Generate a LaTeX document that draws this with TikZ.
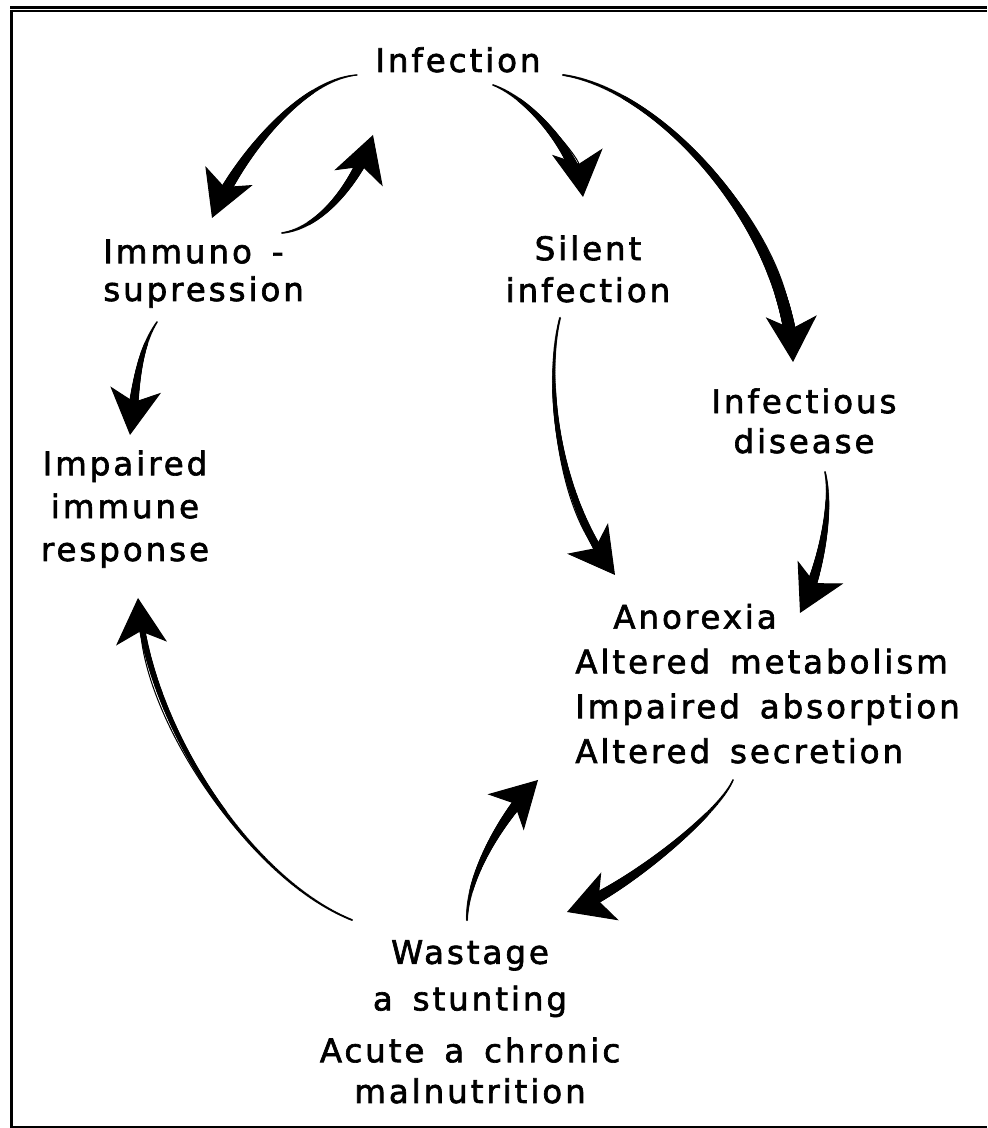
\documentclass[tikz,border=0pt]{standalone}
\usepackage{fontspec}
\setmainfont{DejaVu Sans}[LetterSpace=9, FakeBold=2, WordSpace=1.5]
\usetikzlibrary{arrows.meta,decorations.markings}
\newcommand\lbl{\fontsize{18.5}{21.5}\selectfont}

\tikzset{
  taper/.style 2 args={-{Stealth[length=26pt,width=29pt,inset=7pt]}, line width=0.6pt,
    postaction={decorate,decoration={markings,
      mark=between positions 0 and 1 step 0.5pt with {
        \pgfmathsetmacro\tpd{\pgfkeysvalueof{/pgf/decoration/mark info/distance from start}}
        \pgfmathsetmacro\tpl{\pgfdecoratedpathlength-16}
        \ifdim\tpd pt<\tpl pt
          \pgfmathsetmacro\tpr{#1+(#2-#1)*\tpd/\tpl}
          \fill (0,0) circle (\tpr pt);
        \fi}}}},
}

\begin{document}
\begin{tikzpicture}[x=0.02cm, y=0.02cm, lab/.style={font=\lbl, inner sep=0pt}]
  \useasboundingbox (0,0) rectangle (987,1128);
  \draw[line width=1.9pt] (10,1120.4) -- (987,1120.4);
  \draw[line width=1.3pt] (10,1116.8) -- (987,1116.8);
  \draw[line width=2pt] (11.5,1118) -- (11.5,0);
  \draw[line width=1.1pt] (10,1) -- (987,1);

  \node[lab, anchor=base] (inf) at (458,1056) {Infection};
  \node[lab, anchor=base west, align=left] (imm) at (103,827) {Immuno -\\supression};
  \node[lab, anchor=base, align=center] (sil) at (588,826) {Silent\\[2.3pt]infection};
  \node[lab, anchor=base, align=center] (ifd) at (804,675) {Infectious\\[1.2pt]disease};
  \node[lab, anchor=base, align=center] (imp) at (125,567) {Impaired\\[2.9pt]immune\\[2.9pt]response};
  \node[lab, anchor=base west, align=left] (ano) at (575,365)
    {\hspace*{0.76cm}Anorexia\\[4pt]Altered metabolism\\[4pt]Impaired absorption\\[4pt]Altered secretion};
  \node[lab, anchor=base, align=center] (was) at (470,25)
    {Wastage\\[5pt]a stunting\\[8pt]Acute a chronic\\[1.7pt]malnutrition};

  \draw[taper={0.4}{3.2}] ([shift={(-101,-3)}]inf.base) .. controls +(-60,-5) and +(20,50) .. ([shift={(109,83)}]imm.base west);
  \draw[taper={0.5}{3}] ([shift={(179,68)}]imm.base west) .. controls +(40,5) and +(-15,-45) .. ([shift={(-85,-63)}]inf.base);
  \draw[taper={0.5}{2.8}] ([shift={(54,-21)}]imm.base west) .. controls +(-20,-30) and +(5,40) .. ([shift={(5,126)}]imp.base);
  \draw[taper={0.5}{3}] ([shift={(35,-13)}]inf.base) .. controls +(40,-15) and +(-5,40) .. ([shift={(-5,105)}]sil.base);
  \draw[taper={0.6}{3.6}] ([shift={(105,-3)}]inf.base) .. controls +(100,-15) and +(-5,130) .. ([shift={(-11,91)}]ifd.base);
  \draw[taper={0.6}{2.4}] ([shift={(-28,-16)}]sil.base) .. controls +(-15,-60) and +(-60,80) .. ([shift={(40,188)}]ano.base west);
  \draw[taper={0.5}{3}] ([shift={(21,-19)}]ifd.base) .. controls +(8,-35) and +(20,40) .. ([shift={(225,150)}]ano.base west);
  \draw[taper={0.5}{3.2}] ([shift={(158,-17)}]ano.base west) .. controls +(-15,-35) and +(55,20) .. ([shift={(97,191)}]was.base);
  \draw[taper={0.6}{3}] ([shift={(-3,183)}]was.base) .. controls +(0,45) and +(-35,-35) .. ([shift={(-37,-17)}]ano.base west);
  \draw[taper={0.6}{1.8}] ([shift={(-118,183)}]was.base) .. controls +(-100,40) and +(10,-130) .. ([shift={(13,-37)}]imp.base);
\end{tikzpicture}
\end{document}
